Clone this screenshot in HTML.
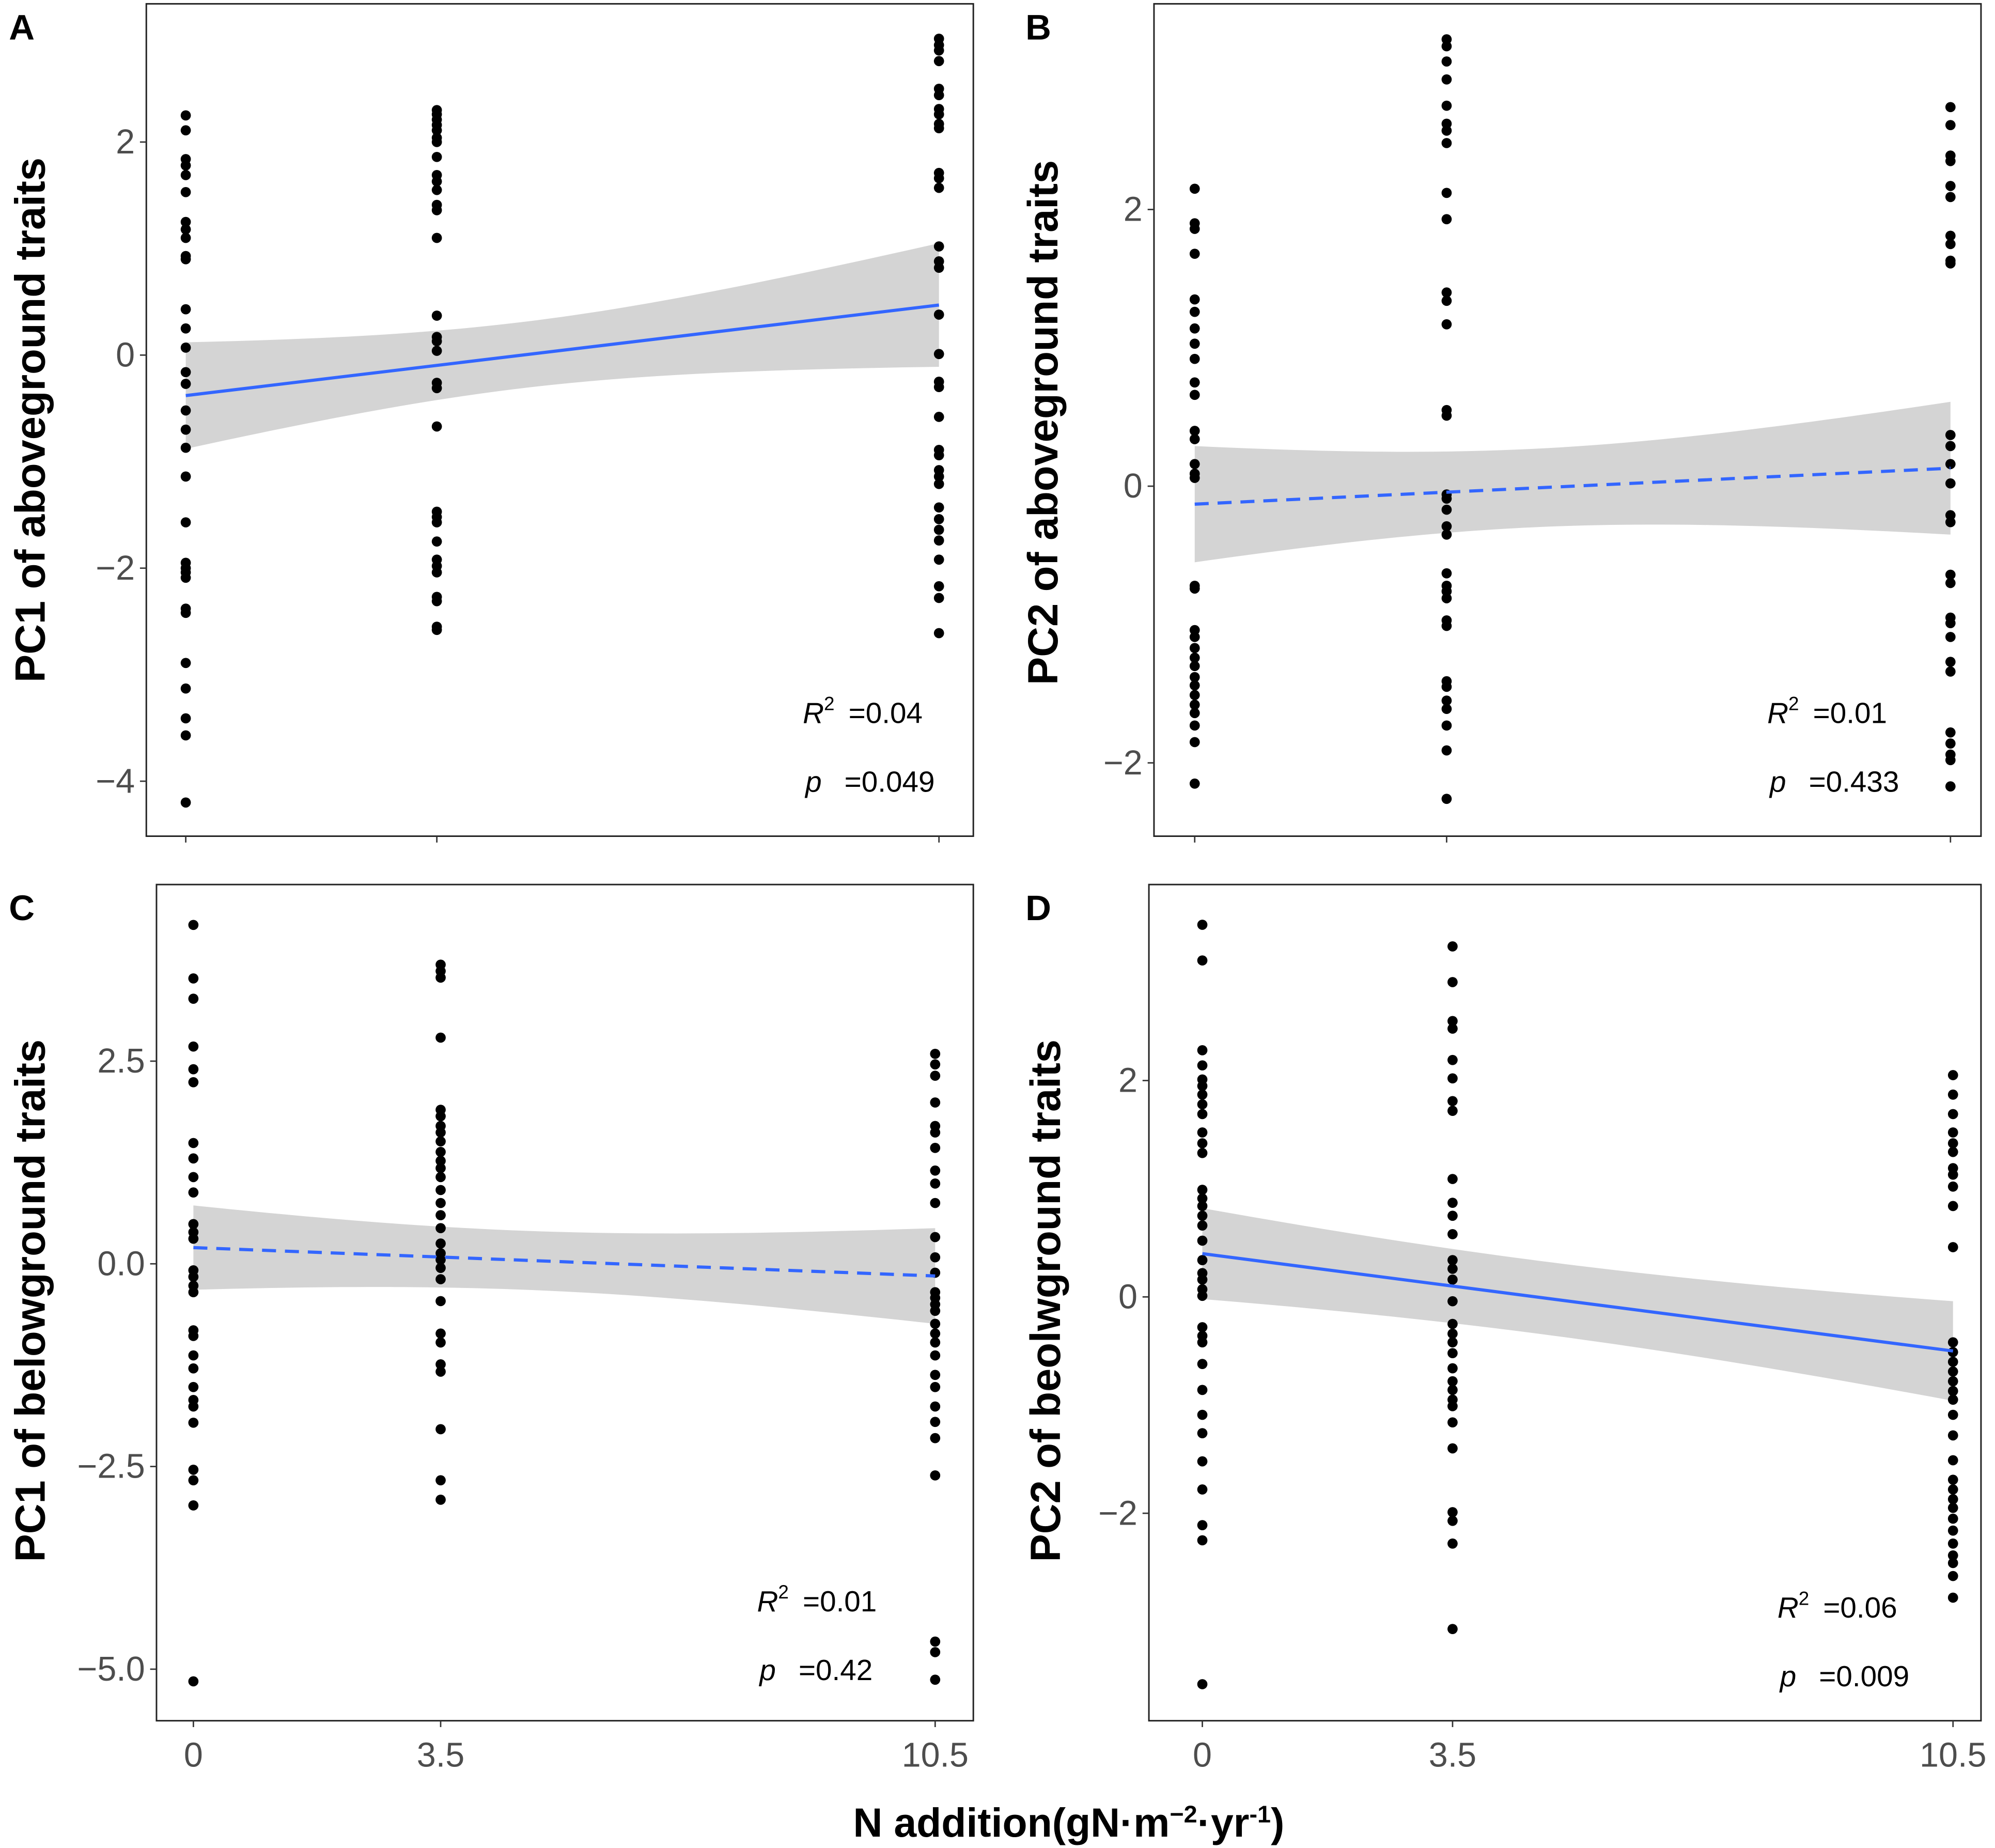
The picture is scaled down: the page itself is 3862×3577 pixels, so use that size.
<!DOCTYPE html>
<html><head><meta charset="utf-8"><style>
html,body{margin:0;padding:0;background:#fff;}
svg{display:block;font-family:"Liberation Sans",Arial,sans-serif;}
</style></head><body>
<svg id="fig" width="3862" height="3577" viewBox="0 0 1568 1452" preserveAspectRatio="none" xmlns="http://www.w3.org/2000/svg">
<rect width="1568" height="1452" fill="#fff"/>
</svg>
<script>
// ---- data ----
const categories = [0, 3.5, 10.5];
const tickLabelsX = ["0", "3.5", "10.5"];
const aX0 = [2.25,2.11,1.84,1.78,1.69,1.53,1.25,1.18,1.10,0.93,0.90,0.43,0.25,0.07,-0.16,-0.27,-0.52,-0.70,-0.87,-1.14,-1.57,-1.95,-2.0,-2.04,-2.09,-2.38,-2.42,-2.89,-3.13,-3.41,-3.57,-4.20];
const aX35 = [2.30,2.26,2.21,2.16,2.11,2.04,2.0,1.86,1.69,1.63,1.55,1.41,1.36,1.10,0.37,0.17,0.13,0.04,-0.26,-0.31,-0.67,-1.47,-1.52,-1.57,-1.75,-1.92,-1.98,-2.04,-2.27,-2.31,-2.55,-2.58];
const aX105 = [2.97,2.91,2.86,2.76,2.50,2.44,2.31,2.26,2.17,2.13,1.71,1.66,1.57,1.02,0.88,0.82,0.38,0.01,-0.25,-0.30,-0.58,-0.89,-0.94,-1.08,-1.14,-1.21,-1.43,-1.54,-1.64,-1.74,-1.92,-2.17,-2.28,-2.61];
const bX0 = [2.15,1.90,1.86,1.68,1.35,1.26,1.14,1.03,0.92,0.75,0.66,0.40,0.34,0.16,0.09,0.06,-0.72,-0.74,-1.04,-1.09,-1.17,-1.24,-1.30,-1.38,-1.44,-1.51,-1.58,-1.64,-1.73,-1.85,-2.15];
const bX35 = [3.23,3.18,3.07,2.94,2.75,2.62,2.57,2.48,2.12,1.93,1.40,1.34,1.17,0.55,0.51,-0.06,-0.09,-0.17,-0.29,-0.35,-0.63,-0.72,-0.76,-0.81,-0.97,-1.01,-1.41,-1.45,-1.55,-1.61,-1.73,-1.91,-2.26];
const bX105 = [2.74,2.61,2.39,2.35,2.17,2.09,1.81,1.75,1.63,1.61,0.37,0.29,0.16,0.02,-0.21,-0.26,-0.64,-0.70,-0.95,-0.99,-1.09,-1.27,-1.34,-1.78,-1.86,-1.94,-1.98,-2.17];
const cX0 = [4.18,3.52,3.27,2.68,2.40,2.24,1.49,1.30,1.07,0.88,0.49,0.39,0.31,-0.08,-0.16,-0.27,-0.35,-0.82,-0.89,-1.13,-1.29,-1.52,-1.68,-1.76,-1.96,-2.54,-2.67,-2.98,-5.15];
const cX35 = [3.69,3.61,3.53,2.79,1.90,1.82,1.70,1.62,1.51,1.38,1.27,1.18,1.07,0.91,0.75,0.60,0.44,0.25,0.13,0.05,-0.05,-0.19,-0.46,-0.86,-0.97,-1.24,-1.33,-2.04,-2.67,-2.91];
const cX105 = [2.59,2.46,2.32,1.99,1.70,1.62,1.43,1.15,0.99,0.75,0.33,0.08,-0.11,-0.35,-0.42,-0.50,-0.58,-0.74,-0.86,-0.97,-1.13,-1.37,-1.52,-1.76,-1.95,-2.15,-2.61,-4.66,-4.79,-5.13];
const dX0 = [3.44,3.11,2.28,2.14,2.01,1.95,1.87,1.78,1.69,1.52,1.42,1.33,0.99,0.91,0.84,0.75,0.66,0.52,0.34,0.22,0.16,0.07,0.01,-0.28,-0.36,-0.42,-0.62,-0.86,-1.09,-1.26,-1.52,-1.78,-2.11,-2.25,-3.58];
const dX35 = [3.24,2.91,2.55,2.48,2.19,2.02,1.81,1.72,1.09,0.87,0.75,0.58,0.34,0.26,0.16,-0.04,-0.25,-0.34,-0.42,-0.52,-0.66,-0.78,-0.86,-0.95,-1.01,-1.16,-1.40,-1.99,-2.07,-2.28,-3.07];
const dX105 = [2.05,1.87,1.69,1.52,1.42,1.34,1.19,1.13,1.02,0.84,0.46,-0.42,-0.51,-0.60,-0.69,-0.78,-0.87,-0.95,-1.09,-1.28,-1.51,-1.69,-1.78,-1.87,-1.95,-2.05,-2.16,-2.28,-2.39,-2.46,-2.58,-2.78];
// fitted line values at x=0 and x=10.5; CI half-widths at x=0 and x=10.5
const fitA = [-0.38, 0.47]; const ciA = [0.50, 0.58];
const fitB = [-0.13, 0.13]; const ciB = [0.42, 0.48];
const fitC = [0.20, -0.15]; const ciC = [0.52, 0.59];
const fitD = [0.40, -0.50]; const ciD = [0.42, 0.46];
const yTicksA = [-4, -2, 0, 2]; const yTickLabelsA = ["\u22124", "\u22122", "0", "2"];
const yTicksB = [-2, 0, 2]; const yTickLabelsB = ["\u22122", "0", "2"];
const yTicksC = [-5, -2.5, 0, 2.5]; const yTickLabelsC = ["\u22125.0", "\u22122.5", "0.0", "2.5"];
const yTicksD = [-2, 0, 2]; const yTickLabelsD = ["\u22122", "0", "2"];

const NS = "http://www.w3.org/2000/svg";
const svg = document.getElementById('fig');
function mk(tag, attrs, parent) {
  const e = document.createElementNS(NS, tag);
  for (const k in attrs) e.setAttribute(k, attrs[k]);
  (parent || svg).appendChild(e);
  return e;
}

const panels = [
  {id:'a', letter:'A', frame:[115,3,765,657], x0:146, x105:738, yRef:[0,279], yPer:83.7, pts:[aX0,aX35,aX105], fit:fitA, ci:ciA, dashed:false, ticks:yTicksA, tl:yTickLabelsA, xlabels:false, title:'PC1 of aboveground traits', tx:24, ty:330, r2:'0.04', p:'0.049', ax:631, ay:568},
  {id:'b', letter:'B', frame:[907,3,1557,657], x0:939, x105:1533, yRef:[0,382], yPer:108.7, pts:[bX0,bX35,bX105], fit:fitB, ci:ciB, dashed:true, ticks:yTicksB, tl:yTickLabelsB, xlabels:false, title:'PC2 of aboveground traits', tx:820, ty:332, r2:'0.01', p:'0.433', ax:1389, ay:568},
  {id:'c', letter:'C', frame:[123,695,765,1352], x0:152, x105:735, yRef:[0,993], yPer:63.7, pts:[cX0,cX35,cX105], fit:fitC, ci:ciC, dashed:true, ticks:yTicksC, tl:yTickLabelsC, xlabels:true, title:'PC1 of belowground traits', tx:24, ty:1022, r2:'0.01', p:'0.42', ax:595, ay:1266},
  {id:'d', letter:'D', frame:[903,695,1557,1352], x0:945, x105:1535, yRef:[0,1019], yPer:85, pts:[dX0,dX35,dX105], fit:fitD, ci:ciD, dashed:false, ticks:yTicksD, tl:yTickLabelsD, xlabels:true, title:'PC2 of beolwground traits', tx:822, ty:1022, r2:'0.06', p:'0.009', ax:1397, ay:1271}
];

panels.forEach(P => {
  const g = mk('g', {});
  
  
  const xs = v => P.x0 + (P.x105 - P.x0) * v / 10.5;
  const ys = v => P.yRef[1] - (v - P.yRef[0]) * P.yPer;
  const [fx1, fy1, fx2, fy2] = P.frame;
  const xm = (categories[0] + categories[1] + categories[2]) / 3;
  const d0 = (0 - xm) ** 2, d1 = (10.5 - xm) ** 2;
  const k = (P.ci[1] ** 2 - P.ci[0] ** 2) / (d1 - d0);
  const hmin2 = P.ci[1] ** 2 - k * d1;
  const hw = x => Math.sqrt(Math.max(0.0001, hmin2 + k * (x - xm) ** 2));
  const fit = x => P.fit[0] + (P.fit[1] - P.fit[0]) * x / 10.5;
  let up = [], lo = [];
  for (let i = 0; i <= 60; i++) {
    const x = 10.5 * i / 60;
    up.push(xs(x).toFixed(2) + ',' + ys(fit(x) + hw(x)).toFixed(2));
    lo.unshift(xs(x).toFixed(2) + ',' + ys(fit(x) - hw(x)).toFixed(2));
  }
  const band = mk('polygon', {points: up.concat(lo).join(' '), fill: '#d4d4d4'}, g);
  
  
  P.pts.forEach((arr, ci) => {
    arr.forEach(v => {
      const c = mk('circle', {cx: xs(categories[ci]), cy: ys(v), r: 4.0, fill: '#000'}, g);
      
      
    });
  });
  const ln = mk('line', {x1: xs(0), y1: ys(fit(0)), x2: xs(10.5), y2: ys(fit(10.5)), stroke: '#3366FF', 'stroke-width': 2.5}, g);
  if (P.dashed) ln.setAttribute('stroke-dasharray', '11 7');
  
  
  const fr = mk('rect', {x: fx1, y: fy1, width: fx2 - fx1, height: fy2 - fy1, fill: 'none', stroke: '#222', 'stroke-width': 1.2}, g);
  
  
  categories.forEach((c, i) => {
    const t = mk('line', {x1: xs(c), x2: xs(c), y1: fy2, y2: fy2 + 5, stroke: '#333', 'stroke-width': 1.1}, g);
    
    
    if (P.xlabels) {
      const tx = mk('text', {x: xs(c), y: fy2 + 36, 'font-size': 27, fill: '#4d4d4d', 'text-anchor': 'middle'}, g);
      tx.textContent = tickLabelsX[i];
      
      
    }
  });
  P.ticks.forEach((v, i) => {
    const t = mk('line', {x1: fx1 - 5, x2: fx1, y1: ys(v), y2: ys(v), stroke: '#333', 'stroke-width': 1.1}, g);
    
    
    const tx = mk('text', {x: fx1 - 9, y: ys(v) + 9, 'font-size': 27, fill: '#4d4d4d', 'text-anchor': 'end'}, g);
    tx.textContent = P.tl[i];
    
    
  });
  const L = mk('text', {x: P.id === 'a' || P.id === 'c' ? 7 : 806, y: fy1 + 28, 'font-size': 28, 'font-weight': 'bold', fill: '#000'}, g);
  L.textContent = P.letter;
  
  
  const T = mk('text', {x: P.tx, y: P.ty, 'font-size': 33, 'font-weight': 'bold', fill: '#000', 'text-anchor': 'middle', 'dominant-baseline': 'central', transform: 'rotate(-90 ' + P.tx + ' ' + P.ty + ')'}, g);
  T.textContent = P.title;
  
  
  const R = mk('text', {x: P.ax, y: P.ay, 'font-size': 23, fill: '#000'}, g);
  R.innerHTML = '<tspan font-style="italic">R</tspan><tspan dy="-10" font-size="15">2</tspan><tspan dy="10"> \u2009=' + P.r2 + '</tspan>';
  
  
  const Pp = mk('text', {x: P.ax + 2, y: P.ay + 54, 'font-size': 23, fill: '#000'}, g);
  Pp.innerHTML = '<tspan font-style="italic">p</tspan>  \u2002=' + P.p;
  
  
});

const xt = mk('text', {x: 840, y: 1443, 'font-size': 32, 'font-weight': 'bold', fill: '#000', 'text-anchor': 'middle'});
xt.innerHTML = 'N addition(gN\u00B7m<tspan dy="-11" font-size="19">\u22122</tspan><tspan dy="11">\u00B7yr</tspan><tspan dy="-11" font-size="19">-1</tspan><tspan dy="11">)</tspan>';


</script>
</body></html>
